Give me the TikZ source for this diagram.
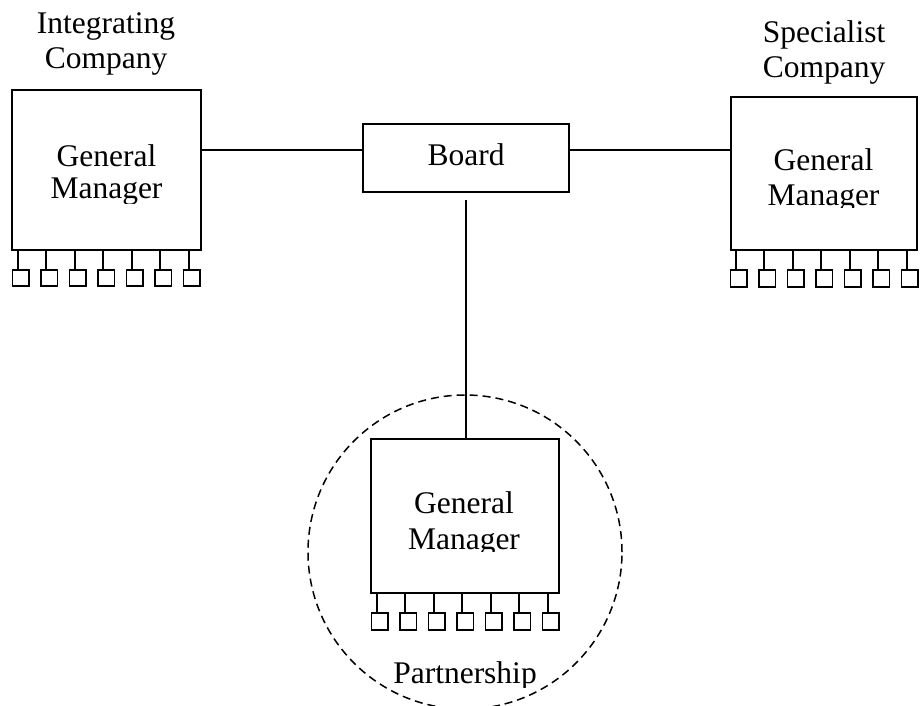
\documentclass[tikz,border=0pt]{standalone}
\usepackage{fontspec}
\setmainfont{Liberation Serif}
\begin{document}
\begin{tikzpicture}[x=1pt,y=-1pt,
  box/.style={draw, line width=1.8pt, inner sep=0pt, outer sep=0pt},
  sq/.style={draw, line width=1.8pt, inner sep=0pt, outer sep=0pt, minimum size=16.5pt},
  lbl/.style={anchor=base, inner sep=0pt, font=\fontsize{31.5}{36}\selectfont},
  wire/.style={line width=1.8pt},
  ring/.style={draw, dash pattern=on 8pt off 5pt, line width=1.5pt, circle, inner sep=0pt}]
\clip (0,0) rectangle (921,705);
\useasboundingbox (0,0) rectangle (921,705);

% main boxes
\node[box, minimum width=189pt, minimum height=160pt] (gmL) at (106.5,170) {};
\node[box, minimum width=186pt, minimum height=153pt] (gmR) at (824,173.5) {};
\node[box, minimum width=206pt, minimum height=68pt] (board) at (466,158) {};
\node[box, minimum width=188pt, minimum height=154pt] (gmB) at (465,516) {};

% partnership ring
\node[ring, minimum size=314pt] (ring) at (465,552) {};

% titles
\node[lbl] (tIntA) at (106,33) {Integrating};
\node[lbl] (tIntB) at (106,68) {Company};
\node[lbl] (tSpeA) at (824,42) {Specialist};
\node[lbl] (tSpeB) at (824,77) {Company};
\node[lbl] (tBoard) at (466,165) {Board};

% general manager texts (clipped at the bottom)
\begin{scope}
\clip (0,0) rectangle (300,203);
\node[lbl] (gmLa) at (106.5,166) {General};
\node[lbl] (gmLb) at (106.5,198) {Manager};
\end{scope}
\begin{scope}
\clip (700,0) rectangle (921,207.5);
\node[lbl] (gmRa) at (823.5,170.5) {General};
\node[lbl] (gmRb) at (823.5,205) {Manager};
\end{scope}
\begin{scope}
\clip (300,400) rectangle (640,551);
\node[lbl] (gmBa) at (464,513) {General};
\node[lbl] (gmBb) at (464,549) {Manager};
\end{scope}
\begin{scope}
\clip (300,600) rectangle (640,687.5);
\node[lbl] (tPart) at (465,683) {Partnership};
\end{scope}

% connectors
\coordinate (yline) at (0,150);
\coordinate (vtop) at (466,200);
\draw[wire] (gmL.east |- yline) -- (board.west |- yline);
\draw[wire] (board.east |- yline) -- (gmR.west |- yline);
\draw[wire] (vtop) -- (vtop |- gmB.north);

% small squares
\foreach \i in {0,...,6} {
  \node[sq] (sqL\i) at ({12+8.75+\i*28.5},278) {};
  \draw[wire] ([xshift=-3pt]sqL\i.north) -- ([xshift=-3pt]sqL\i.north |- gmL.south);
  \node[sq] (sqR\i) at ({730+8.75+\i*28.5},278.5) {};
  \draw[wire] ([xshift=-3pt]sqR\i.north) -- ([xshift=-3pt]sqR\i.north |- gmR.south);
  \node[sq] (sqB\i) at ({371+8.75+\i*28.5},621.5) {};
  \draw[wire] ([xshift=-3pt]sqB\i.north) -- ([xshift=-3pt]sqB\i.north |- gmB.south);
}
\end{tikzpicture}
\end{document}
